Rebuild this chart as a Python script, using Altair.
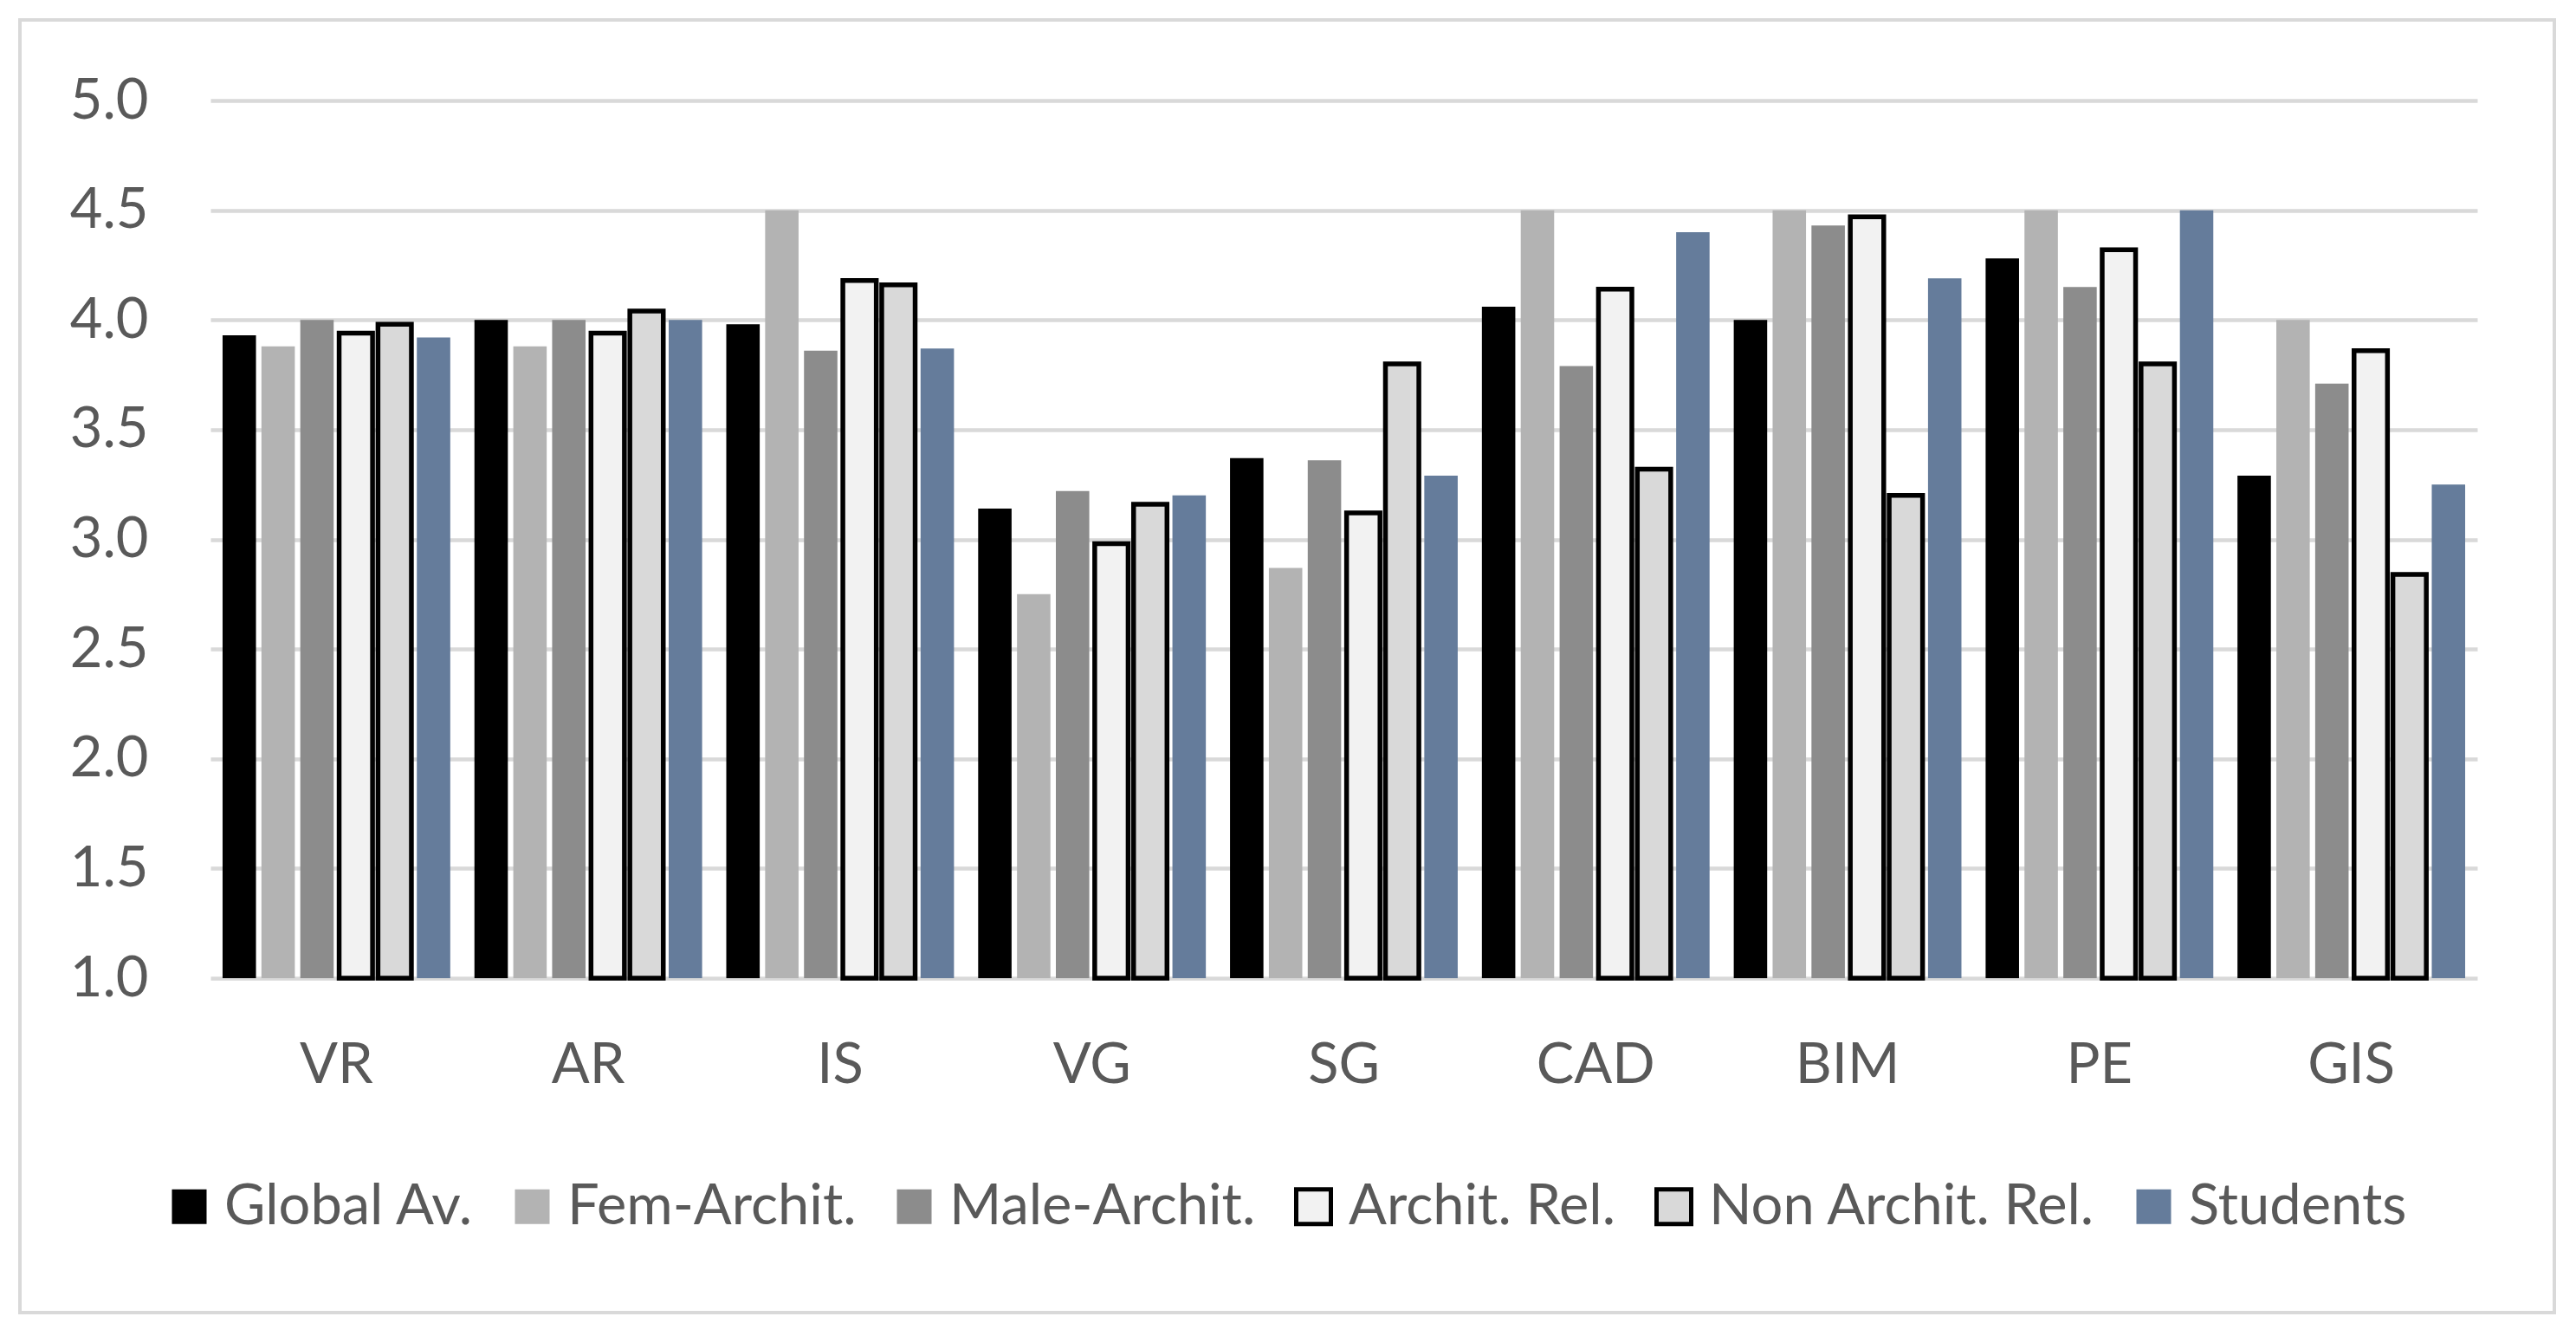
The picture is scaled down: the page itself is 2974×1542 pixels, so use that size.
import altair as alt
import pandas as pd

categories = ["VR", "AR", "IS", "VG", "SG", "CAD", "BIM", "PE", "GIS"]
series_names = ["Global Av.", "Fem-Archit.", "Male-Archit.", "Archit. Rel.", "Non Archit. Rel.", "Students"]

global_av = [3.93, 4.00, 3.98, 3.14, 3.37, 4.06, 4.00, 4.28, 3.29]
fem_archit = [3.88, 3.88, 4.50, 2.75, 2.87, 4.50, 4.50, 4.50, 4.00]
male_archit = [4.00, 4.00, 3.86, 3.22, 3.36, 3.79, 4.43, 4.15, 3.71]
archit_rel = [3.94, 3.94, 4.18, 2.98, 3.12, 4.14, 4.47, 4.32, 3.86]
non_archit_rel = [3.98, 4.04, 4.16, 3.16, 3.80, 3.32, 3.20, 3.80, 2.84]
students = [3.92, 4.00, 3.87, 3.20, 3.29, 4.40, 4.19, 4.50, 3.25]

fills = ["#000000", "#b3b3b3", "#8c8c8c", "#f2f2f2", "#d9d9d9", "#657c9b"]
strokes = ["transparent", "transparent", "transparent", "#000000", "#000000", "transparent"]

all_series = [global_av, fem_archit, male_archit, archit_rel, non_archit_rel, students]
rows = []
for name, vals in zip(series_names, all_series):
    for c, v in zip(categories, vals):
        rows.append({"cat": c, "series": name, "value": v})
df = pd.DataFrame(rows)

FONT = "Lato"
TXT = "#595959"
FS = 65

W, H = 2617, 1013

legend_kw = dict(title=None, orient="none", legendX=-57, legendY=1244,
                 direction="horizontal", symbolType="square",
                 symbolSize=1600, symbolStrokeWidth=5,
                 labelFont=FONT, labelFontSize=FS, labelColor=TXT, labelLimit=2000,
                 labelOffset=8, columnPadding=34)

bars = alt.Chart(df).mark_bar(strokeWidth=5.5).encode(
    x=alt.X("cat:N", sort=categories,
            scale=alt.Scale(paddingInner=0.096, paddingOuter=0.048),
            axis=alt.Axis(title=None, labelAngle=0, domain=False, ticks=False, tickSize=0,
                          labelPadding=100, labelBaseline="middle", grid=False,
                          labelFont=FONT, labelFontSize=FS, labelColor=TXT)),
    xOffset=alt.XOffset("series:N", sort=series_names,
                        scale=alt.Scale(paddingInner=0.14, paddingOuter=0)),
    y=alt.Y("value:Q",
            scale=alt.Scale(domain=[1, 5], nice=False, zero=False),
            axis=alt.Axis(title=None, values=[1, 1.5, 2, 2.5, 3, 3.5, 4, 4.5, 5], format=".1f",
                          domain=False, ticks=False, tickSize=0, labelPadding=72,
                          grid=True, gridColor="#d9d9d9", gridWidth=4.5,
                          labelFont=FONT, labelFontSize=FS, labelColor=TXT)),
    y2=alt.datum(1),
    color=alt.Color("series:N", sort=series_names,
                    scale=alt.Scale(domain=series_names, range=fills),
                    legend=alt.Legend(**legend_kw)),
    stroke=alt.Stroke("series:N", sort=series_names,
                      scale=alt.Scale(domain=series_names, range=strokes),
                      legend=alt.Legend(**legend_kw)),
)

frame = alt.Chart(pd.DataFrame({"a": [0]})).mark_rect(
    fill="transparent", stroke="#d9d9d9", strokeWidth=4, clip=False
).encode(
    x=alt.value(-220), x2=alt.value(2706), y=alt.value(-93), y2=alt.value(1399)
)

chart = alt.layer(frame, bars).properties(
    width=W, height=H,
    autosize=alt.AutoSizeParams(type="none"),
    padding={"left": 235, "top": 108, "right": 106, "bottom": 405},
    background="white",
).configure_view(strokeWidth=0)

chart.save("out.html", embed_options={"renderer": "svg", "actions": False})
